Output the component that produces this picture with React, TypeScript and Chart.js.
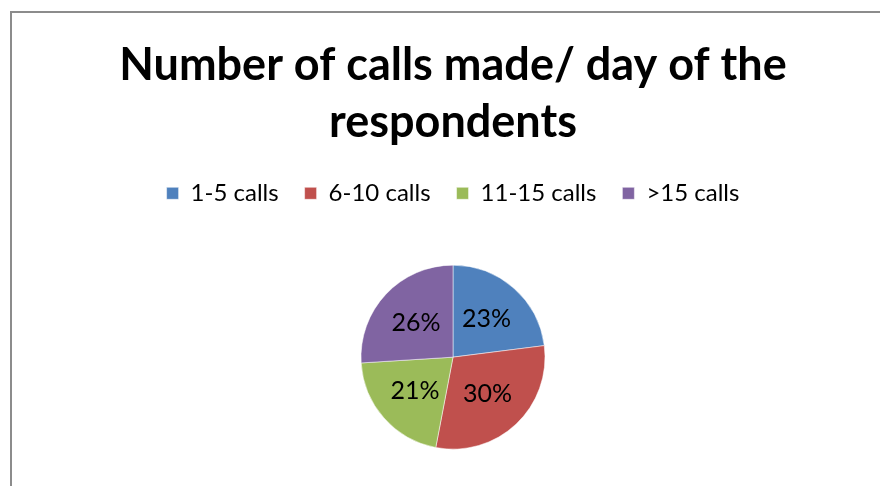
import React, { useEffect, useRef } from "react";
import { Chart, registerables } from "chart.js";

Chart.register(...registerables);

const categories = ["1-5 calls", "6-10 calls", "11-15 calls", ">15 calls"];
const values = [23, 30, 21, 26];
const colors = ["#4F81BD", "#C0504D", "#9BBB59", "#8064A2"];
const titleLines = ["Number of calls made/ day of the", "respondents"];

const FONT = "Lato, 'Noto Sans', sans-serif";

const labelPlugin = {
  id: "sliceLabels",
  afterDatasetsDraw(chart: any) {
    const ctx = chart.ctx;
    const meta = chart.getDatasetMeta(0);
    ctx.save();
    ctx.font = `25px ${FONT}`;
    ctx.fillStyle = "#000000";
    ctx.textAlign = "center";
    ctx.textBaseline = "middle";
    meta.data.forEach((arc: any, i: number) => {
      const { x, y, startAngle, endAngle, outerRadius } = arc.getProps(
        ["x", "y", "startAngle", "endAngle", "outerRadius"],
        true
      );
      const mid = (startAngle + endAngle) / 2;
      const r = outerRadius * 0.55;
      ctx.fillText(`${values[i]}%`, x + Math.cos(mid) * r, y + Math.sin(mid) * r);
    });
    ctx.restore();
  },
};

export default function App() {
  const ref = useRef<HTMLCanvasElement>(null);
  useEffect(() => {
    if (!ref.current) return;
    const chart = new Chart(ref.current, {
      type: "pie",
      data: {
        labels: categories,
        datasets: [
          {
            data: values,
            backgroundColor: colors,
            borderColor: "#ffffff",
            borderWidth: 0.5,
            radius: 92,
          } as any,
        ],
      },
      options: {
        responsive: false,
        animation: false,
        devicePixelRatio: 1,
        layout: { padding: { top: 0, bottom: 4, left: 0, right: 0 } },
        plugins: {
          title: {
            display: true,
            text: titleLines,
            color: "#000000",
            font: { family: FONT, size: 45, weight: "bold", lineHeight: 1.27 },
            padding: { top: 24, bottom: 4 },
          },
          legend: {
            display: true,
            position: "top",
            labels: {
              color: "#000000",
              font: { family: FONT, size: 24 },
              boxWidth: 12,
              boxHeight: 12,
              padding: 26,
            },
          },
          tooltip: { enabled: false },
        },
      },
      plugins: [labelPlugin],
    });
    return () => chart.destroy();
  }, []);

  return (
    <div
      style={{
        position: "fixed",
        left: 0,
        top: 0,
        width: 880,
        height: 486,
        overflow: "hidden",
        background: "#ffffff",
      }}
    >
      <div
        style={{
          position: "absolute",
          left: 10,
          top: 11,
          width: 900,
          height: 510,
          borderLeft: "2px solid #8c8c8c",
          borderTop: "2px solid #8c8c8c",
        }}
      >
        <canvas
          ref={ref}
          width={882}
          height={490}
          style={{ display: "block", width: 882, height: 490 }}
        />
      </div>
    </div>
  );
}
